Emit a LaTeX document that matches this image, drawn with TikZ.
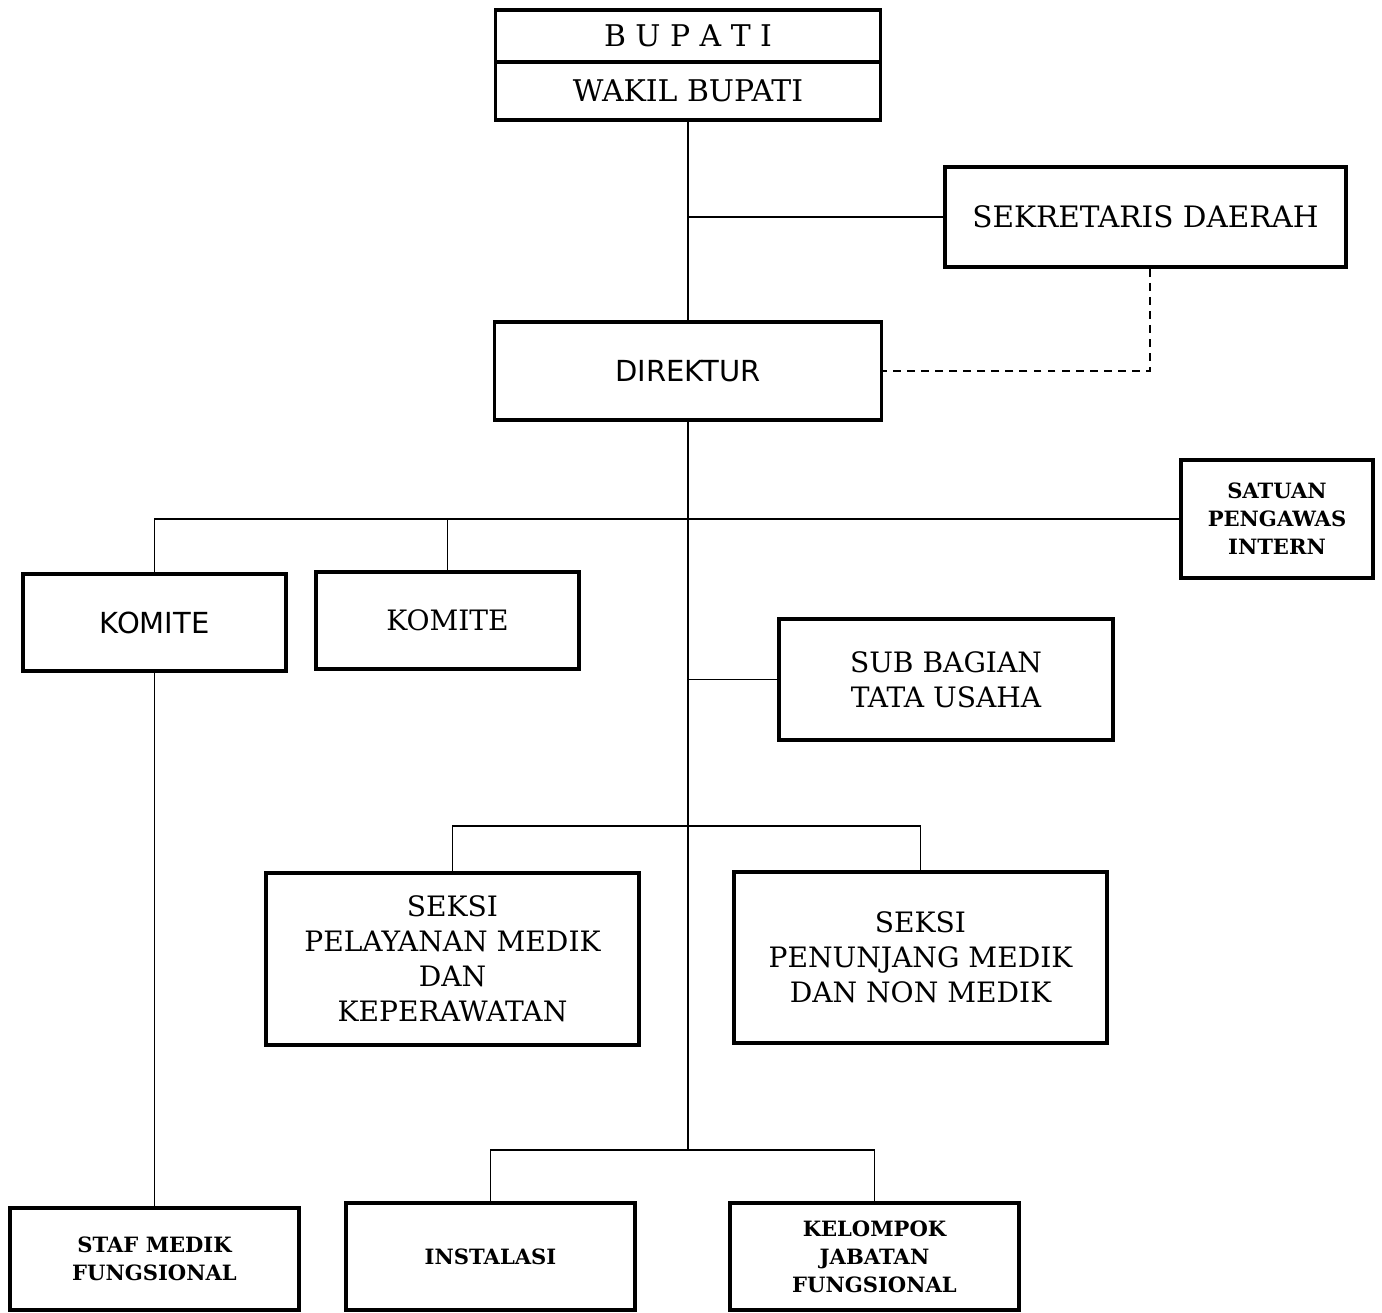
\documentclass[tikz,border=0pt]{standalone}
\usepackage{fontspec}
\setmainfont{DejaVu Serif}
\newfontfamily\plainsans{DejaVu Sans}
\usepackage{tikz}
\tikzstyle{unit} = [rectangle, draw=black, line width=2pt, align=center, inner sep=2pt, font=\fontsize{16}{20}\selectfont]
\tikzstyle{smallunit} = [unit, font=\bfseries\fontsize{12}{16}\selectfont]
\tikzstyle{sansunit} = [unit, font=\plainsans\fontsize{16.5}{20}\selectfont]
\tikzstyle{link} = [line width=1.1pt]

\begin{document}
\begin{tikzpicture}[x=0.02cm, y=-0.02cm]
	\useasboundingbox (0,0) rectangle (1382,1312);
	\node [unit, minimum width=7.7cm, minimum height=1.04cm, font=\fontsize{17}{20}\selectfont] (bupati) at (688,36) {B U P A T I};
	\node [unit, minimum width=7.7cm, minimum height=1.16cm, font=\fontsize{17}{20}\selectfont] (wakil) at (688,91) {WAKIL BUPATI};
	\node [unit, minimum width=8.02cm, minimum height=2cm, font=\fontsize{16.8}{20}\selectfont] (sekda) at (1145.5,217) {SEKRETARIS DAERAH};
	\node [sansunit, minimum width=7.74cm, minimum height=1.96cm] (direktur) at (688,371) {DIREKTUR};
	\node [smallunit, minimum width=3.84cm, minimum height=2.36cm] (satuan) at (1277,519) {SATUAN\\PENGAWAS\\INTERN};
	\node [sansunit, minimum width=5.26cm, minimum height=1.94cm] (komiteA) at (154.5,622.5) {KOMITE};
	\node [unit, minimum width=5.26cm, minimum height=1.94cm] (komiteB) at (447.5,620.5) {KOMITE};
	\node [unit, minimum width=6.68cm, minimum height=2.42cm] (subbag) at (946,679.5) {SUB BAGIAN\\TATA USAHA};
	\node [unit, minimum width=7.46cm, minimum height=3.44cm] (pelayanan) at (452.5,959) {SEKSI\\PELAYANAN MEDIK\\DAN\\KEPERAWATAN};
	\node [unit, minimum width=7.46cm, minimum height=3.42cm] (penunjang) at (920.5,957.5) {SEKSI\\PENUNJANG MEDIK\\DAN NON MEDIK};
	\node [smallunit, minimum width=5.78cm, minimum height=2.04cm] (staf) at (154.5,1259) {STAF MEDIK\\FUNGSIONAL};
	\node [smallunit, minimum width=5.78cm, minimum height=2.14cm] (instalasi) at (490.5,1256.5) {INSTALASI};
	\node [smallunit, minimum width=5.78cm, minimum height=2.14cm] (kelompok) at (874.5,1256.5) {KELOMPOK\\JABATAN\\FUNGSIONAL};
	\coordinate (seksifork) at (688,826);
	\coordinate (bawahfork) at (688,1150);
	\draw [link] (wakil.south) -- (direktur.north);
	\draw [link] (sekda.west -| wakil.south) -- (sekda.west);
	\draw [link, dash pattern=on 4.5pt off 3.5pt] ([xshift=0.09cm]sekda.south) |- (direktur.east);
	\draw [link] (direktur.south) -- (bawahfork);
	\draw [link] (komiteA.north) |- (satuan.west);
	\draw [link] (komiteB.north) -- (komiteB.north |- satuan.west);
	\draw [link] (komiteA.south) -- (staf.north);
	\draw [link] (subbag.west) -- (subbag.west -| direktur.south);
	\draw [link] (pelayanan.north) |- (seksifork) -| (penunjang.north);
	\draw [link] (instalasi.north) |- (bawahfork) -| (kelompok.north);
\end{tikzpicture}
\end{document}
